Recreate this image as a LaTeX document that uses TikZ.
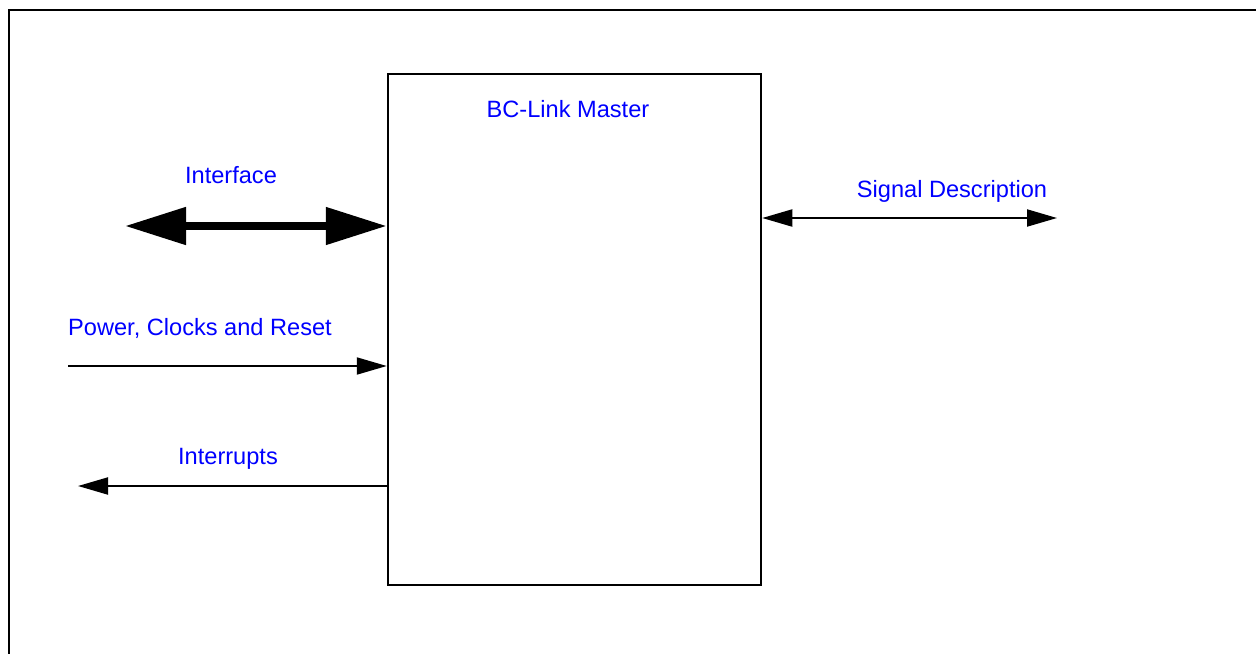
\documentclass[tikz,border=0pt]{standalone}
\usepackage{fontspec}
\setmainfont{Liberation Sans}
\usetikzlibrary{arrows.meta}
\definecolor{lblue}{RGB}{0,0,255}
\tikzset{
  lbl/.style={text=lblue, font=\fontsize{23.6}{26}\selectfont, anchor=base, inner sep=0pt},
  thin arrow/.style={line width=2pt, -{Triangle[length=30pt,width=17pt]}},
  thin dbl/.style={line width=2pt, {Triangle[length=30pt,width=17pt]}-{Triangle[length=30pt,width=17pt]}},
  thick dbl/.style={line width=8pt, {Triangle[length=61pt,width=36pt]}-{Triangle[length=61pt,width=36pt]}},
}
\begin{document}
\begin{tikzpicture}[x=1pt,y=-1pt]
\useasboundingbox (0,0) rectangle (1256,654);
\draw[line width=2pt] (1256,9.5) -- (9,9.5) -- (9,654);
\node[draw, line width=2.5pt, minimum width=373pt, minimum height=511pt, inner sep=0pt] (master) at (574.5,329.5) {};
\node[lbl] (title) at (568,117) {BC-Link Master};
\node[lbl] (lif) at (231,183) {Interface};
\node[lbl] (lsig) at (952,197) {Signal Description};
\node[lbl] (lpow) at (200,335) {Power, Clocks and Reset};
\node[lbl] (lint) at (228,464) {Interrupts};
\coordinate (ifL) at (125,226);
\coordinate (sigR) at (1057,218);
\coordinate (powL) at (68,366);
\coordinate (intL) at (78,486);
\draw[thick dbl] (ifL) -- (ifL -| master.west);
\draw[thin dbl] (sigR -| master.east) -- (sigR);
\draw[thin arrow] (powL) -- (powL -| master.west);
\draw[thin arrow] (intL -| master.west) -- (intL);
\end{tikzpicture}
\end{document}
